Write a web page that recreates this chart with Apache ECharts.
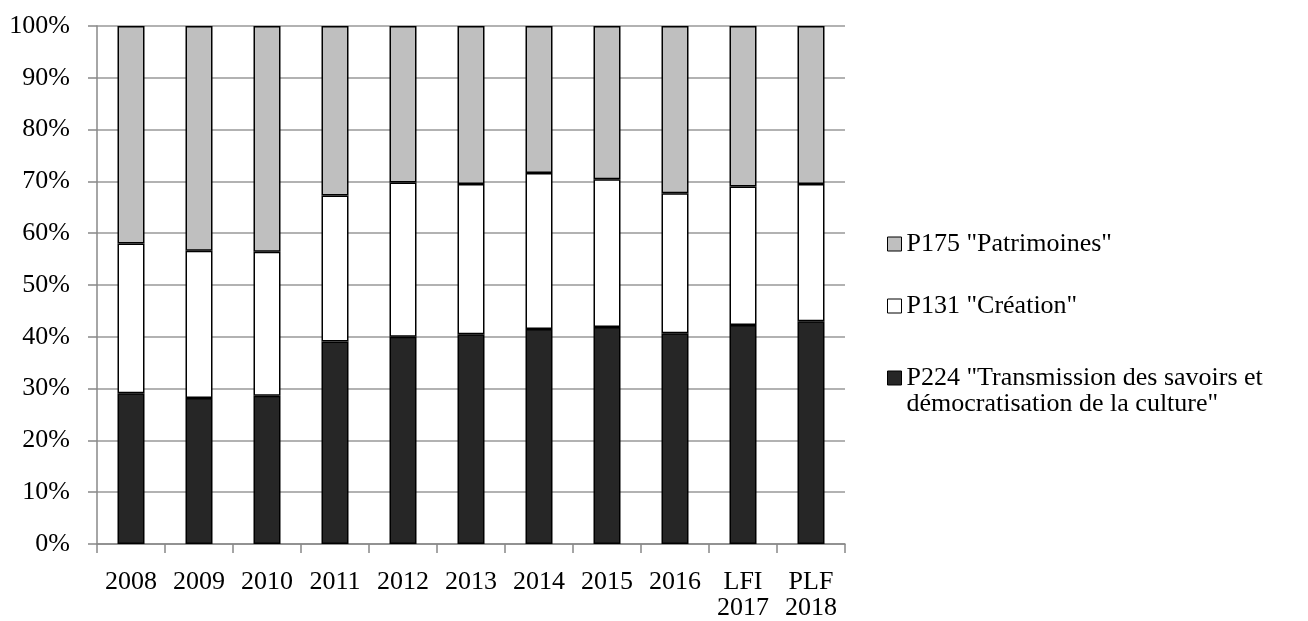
<!DOCTYPE html>
<html>
<head>
<meta charset="utf-8">
<script src="https://cdn.jsdelivr.net/npm/echarts@6/dist/echarts.min.js"></script>
<style>
html,body{margin:0;padding:0;background:#fff;}
#main{width:1308px;height:621px;}
</style>
</head>
<body>
<div id="main"></div>
<script>
var categories = ['2008','2009','2010','2011','2012','2013','2014','2015','2016','LFI\n2017','PLF\n2018'];
var yTicks = [0,10,20,30,40,50,60,70,80,90,100];
var p224 = [29.1, 28.2, 28.6, 39.1, 40.0, 40.5, 41.5, 41.9, 40.7, 42.3, 43.0];
var p131 = [28.9, 28.4, 27.8, 28.2, 29.8, 29.0, 30.1, 28.5, 27.0, 26.7, 26.5];
var p175 = [42.0, 43.4, 43.6, 32.7, 30.2, 30.5, 28.4, 29.6, 32.3, 31.0, 30.5];
var names = ['P224 "Transmission des savoirs et\ndémocratisation de la culture"', 'P131 "Création"', 'P175 "Patrimoines"'];

var FONT = 'Liberation Serif';
var FS = 26;
var chart = echarts.init(document.getElementById('main'), null, {renderer:'canvas'});

function legendAt(name, top, fmt){
  var l = {
    data:[name], orient:'vertical', left:887, top:top,
    itemWidth:14, itemHeight:14, itemGap:0, padding:0,
    icon:'rect', selectedMode:false,
    itemStyle:{borderColor:'#000', borderWidth:1},
    textStyle:{fontFamily:FONT, fontSize:FS, color:'#000', lineHeight:26}
  };
  if (fmt) l.formatter = fmt;
  return l;
}

var barStyle = function(c){ return {color:c, borderColor:'#000', borderWidth:1.5}; };

chart.setOption({
  animation:false,
  backgroundColor:'#fff',
  grid:{left:97, right:463, top:26, bottom:77, containLabel:false},
  legend:[
    legendAt(names[2], 231),
    legendAt(names[1], 293),
    legendAt(names[0], 339, function(n){ return ' \n' + n; })
  ],
  xAxis:{
    type:'category', data:categories,
    axisLine:{lineStyle:{color:'#888', width:1.5}},
    axisTick:{show:true, alignWithLabel:false, interval:0, length:9, lineStyle:{color:'#888', width:1.5}},
    axisLabel:{fontFamily:FONT, fontSize:FS, color:'#000', margin:25, lineHeight:26, interval:0}
  },
  yAxis:{
    type:'value', min:yTicks[0], max:yTicks[yTicks.length-1], interval:10,
    axisLine:{show:true, lineStyle:{color:'#888', width:1.5}},
    axisTick:{show:true, length:9, lineStyle:{color:'#888', width:1.5}},
    splitLine:{show:true, lineStyle:{color:'#999', width:1.5}},
    axisLabel:{fontFamily:FONT, fontSize:FS, color:'#000', margin:27, formatter:'{value}%'}
  },
  series:[
    {name:names[0], type:'bar', stack:'s', data:p224, barWidth:27, itemStyle:barStyle('#262626')},
    {name:names[1], type:'bar', stack:'s', data:p131, barWidth:27, itemStyle:barStyle('#ffffff')},
    {name:names[2], type:'bar', stack:'s', data:p175, barWidth:27, itemStyle:barStyle('#bfbfbf')}
  ]
});
</script>
</body>
</html>
